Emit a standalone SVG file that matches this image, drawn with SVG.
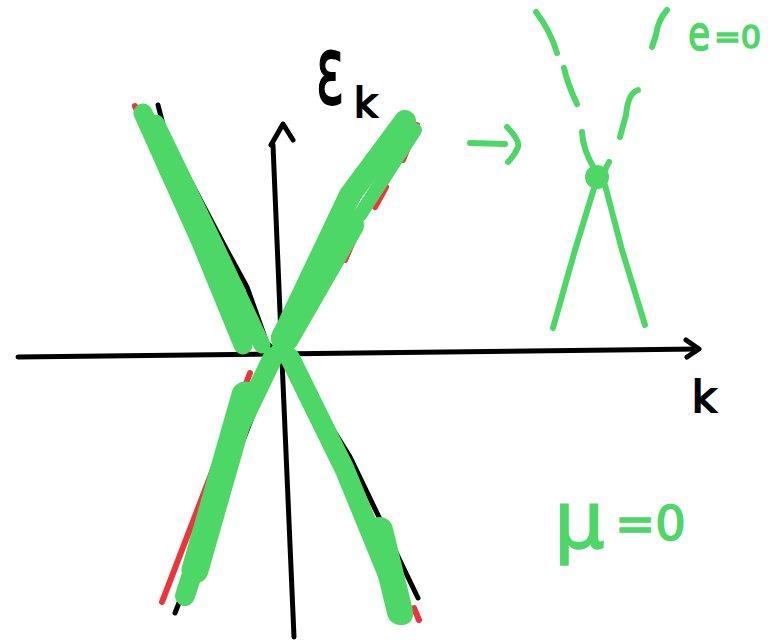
<svg xmlns="http://www.w3.org/2000/svg" width="780" height="643" viewBox="0 0 780 643">
<style>
.ax{fill:none;stroke:#000;stroke-width:5;stroke-linecap:round;stroke-linejoin:round}
.bk{fill:none;stroke:#000;stroke-width:5;stroke-linecap:round}
.rd{fill:none;stroke:#f0323c;stroke-width:6;stroke-linecap:round}
.gr{fill:none;stroke:#4cd766;stroke-linecap:round;stroke-linejoin:round}
.gt{fill:#4cd766;stroke:#4cd766;stroke-width:1.5;font-family:"DejaVu Sans",sans-serif}
.bt{fill:#000;stroke:#000;stroke-width:2;font-family:"DejaVu Sans",sans-serif}
</style>
<rect width="780" height="643" fill="#fff"/>
<g id="axes">
  <path class="ax" d="M18 357 C200 354 500 352 698 349"/>
  <path class="ax" d="M686 340 L699 349 L687 357"/>
  <path class="ax" d="M294 637 L282 360 L273 145"/>
  <path class="ax" d="M271 145 L283 124 L293 140"/>
</g>
<g id="black-lines">
  <path class="bk" d="M158 105 L167 140 L183 167 L223 243 L247 287 L267 343 L280 355"/>
  <path class="bk" d="M405 115 L340 230 L282 345"/>
  <path class="bk" d="M175 613 L268 377 L280 355"/>
  <path class="bk" d="M290 360 L350 457 L418 598"/>
</g>
<g id="red-lines">
  <path class="rd" d="M135 106 L163 173 L200 245"/>
  <path class="rd" d="M417 125 L403 160"/>
  <path class="rd" d="M386 187 L375 207"/>
  <path class="rd" d="M355 237 L345 260"/>
  <path class="rd" d="M162 602 L250 373"/>
  <path class="rd" d="M414 608 L419 620"/>
</g>
<g id="green-branches">
  <path class="gr" stroke-width="19" d="M143 113 L200 240 L243 345"/>
  <path class="gr" stroke-width="17" d="M156 123 L215 245 L262 345"/>
  <path class="gr" stroke-width="22" d="M405 121 L350 195 L282 338"/>
  <path class="gr" stroke-width="14" d="M415 130 L360 215"/>
  <path class="gr" stroke-width="28" d="M350 225 L285 338"/>
  <path class="gr" stroke-width="20" d="M273 357 L238 430 L185 596"/>
  <path class="gr" stroke-width="27" d="M245 395 L195 570"/>
  <path class="gr" stroke-width="20" d="M290 358 L345 470 L390 580 L403 615"/>
  <path class="gr" stroke-width="26" d="M380 530 L400 612"/>
  <path class="gr" stroke-width="14" d="M273 358 L279 348"/>
  <path class="gr" stroke-width="14" d="M291 360 L288 352"/>
</g>
<g id="mini">
  <path class="gr" stroke-width="6" d="M470 143 L505 144"/>
  <path class="gr" stroke-width="6" d="M507 127 Q520 140 518 147 Q515 155 508 162"/>
  <path class="gr" stroke-width="6" d="M536 12 Q550 30 557 53"/>
  <path class="gr" stroke-width="6" d="M564 68 Q568 85 577 104"/>
  <path class="gr" stroke-width="6" d="M582 132 Q583 150 594 168"/>
  <path class="gr" stroke-width="6" d="M609 162 L604 172"/>
  <path class="gr" stroke-width="6" d="M638 90 Q628 93 626 115 L620 137"/>
  <path class="gr" stroke-width="6" d="M667 10 Q658 20 656 35 L652 47"/>
  <path class="gr" stroke-width="6" d="M595 185 L575 250 L553 328"/>
  <path class="gr" stroke-width="6" d="M605 185 L622 250 L645 325"/>
  <circle cx="597" cy="177" r="12" fill="#4cd766"/>
</g>
<g id="labels">
  <text class="bt" font-size="95" transform="translate(316,104) scale(0.55,1)">ε</text>
  <text class="bt" font-size="40" x="354" y="117">k</text>
  <text class="bt" font-size="42" x="692" y="412">k</text>
  <text class="gt" font-size="80" x="554" y="548">μ</text>
  <text class="gt" font-size="48" x="615" y="540">=0</text>
  <text class="gt" font-size="48" transform="translate(688,50) scale(0.75,1)">e</text>
  <text class="gt" font-size="32" x="714" y="48">=0</text>
</g>
</svg>
